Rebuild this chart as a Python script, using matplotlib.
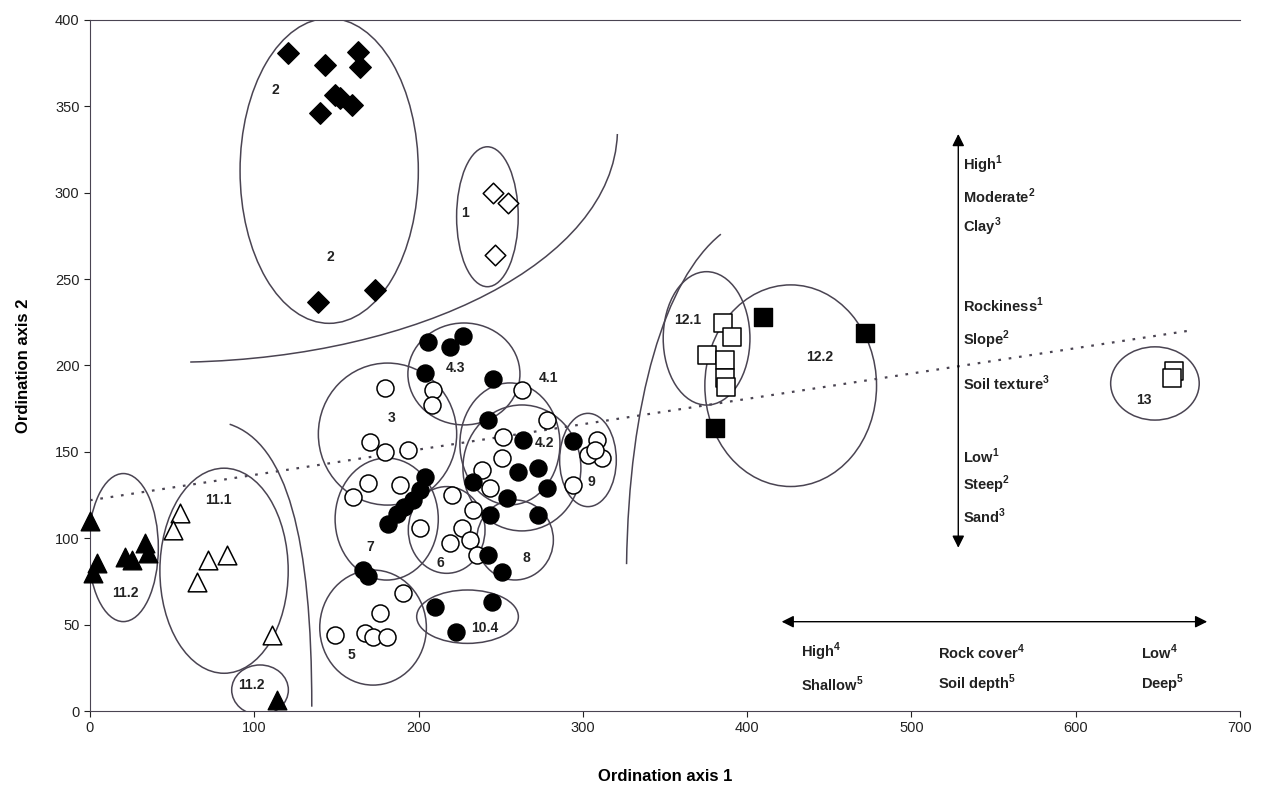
import matplotlib.pyplot as plt
from matplotlib.patches import Ellipse, PathPatch
from matplotlib.path import Path

plt.rcParams['font.family'] = ['Liberation Sans', 'DejaVu Sans']
plt.rcParams['mathtext.fontset'] = 'custom'
plt.rcParams['mathtext.rm'] = 'Liberation Sans'
plt.rcParams['mathtext.bf'] = 'Liberation Sans:bold'

# Sites (ordination scores)
filled_diamond_x = [120.5, 143.0, 163.1, 164.3, 149.1, 152.2, 159.5, 140.0, 138.8, 173.5]
filled_diamond_y = [380.9, 374.0, 381.5, 372.8, 356.6, 354.8, 350.7, 346.2, 236.8, 243.7]

open_diamond_x = [245.5, 254.6, 246.5]
open_diamond_y = [299.7, 293.9, 263.9]

filled_circle_x = [205.7, 219.1, 227.0, 203.9, 245.3, 242.2, 263.5, 294.0, 260.5, 272.7,
                   278.1, 233.1, 253.8, 243.5, 272.7, 203.9, 200.9, 196.6, 191.1, 186.9,
                   181.4, 166.2, 169.2, 242.2, 250.8, 210.0, 244.7, 222.8]
filled_circle_y = [213.6, 210.7, 217.1, 195.7, 192.2, 168.5, 156.9, 156.3, 138.4, 140.7,
                   129.1, 132.6, 123.3, 113.5, 113.5, 135.5, 127.9, 122.1, 118.1, 114.0,
                   108.2, 81.6, 78.1, 90.3, 80.5, 60.2, 63.1, 45.7]

open_circle_x = [179.5, 208.8, 208.2, 170.4, 179.5, 193.5,
                 169.2, 188.7, 160.1, 200.9,
                 220.3, 226.4, 219.1, 231.3, 235.5, 233.1,
                 262.9, 278.1, 251.4, 250.8, 238.6, 243.5,
                 308.6, 311.6, 303.1, 307.4, 294.0,
                 190.5, 149.1, 176.5, 167.4, 172.2, 180.8]
open_circle_y = [187.0, 185.8, 177.1, 155.7, 149.9, 151.1,
                 132.0, 130.8, 123.9, 105.9,
                 125.0, 105.9, 97.3, 99.0, 90.3, 116.4,
                 185.8, 168.5, 158.6, 146.5, 139.5, 129.1,
                 156.9, 146.5, 148.2, 151.1, 130.8,
                 68.3, 44.0, 56.7, 45.2, 42.8, 42.8]

filled_tri_x = [0.0, 4.1, 2.0, 21.3, 25.6, 33.5, 35.3, 113.8]
filled_tri_y = [110.0, 85.5, 79.7, 89.1, 87.4, 97.3, 91.5, 6.4]

open_tri_x = [54.8, 50.5, 71.8, 83.4, 65.1, 110.8]
open_tri_y = [114.6, 104.8, 87.4, 90.3, 74.7, 44.0]

open_square_x = [385.3, 390.7, 375.5, 386.5, 386.5, 387.1, 660.0, 658.5]
open_square_y = [224.6, 216.5, 206.1, 203.2, 192.8, 187.6, 197.0, 193.0]

filled_square_x = [409.6, 471.7, 380.4]
filled_square_y = [228.1, 218.8, 163.8]

# Group ellipses: centre x, centre y, width, height
ell_cx = [145.6, 241.9, 227.6, 181.1, 180.6, 217.1, 258.7, 255.6, 262.9, 303.1,
          172.3, 229.8, 20.3, 81.6, 103.5, 375.3, 426.5, 648.2]
ell_cy = [312.7, 286.1, 195.1, 160.3, 111.1, 104.8, 99.0, 154.6, 140.7, 145.3,
          48.3, 54.6, 94.6, 81.2, 12.2, 215.7, 188.3, 189.6]
ell_w = [108.5, 37.5, 68.2, 84.2, 62.8, 46.7, 46.7, 60.9, 71.8, 34.5,
         64.9, 61.9, 42.6, 78.1, 34.5, 52.8, 104.5, 53.9]
ell_h = [176.6, 81.0, 59.0, 82.2, 70.6, 50.2, 46.3, 70.6, 72.9, 54.0,
         66.6, 30.9, 85.7, 118.7, 28.9, 77.2, 116.7, 42.4]

group_labels = ['2', '2', '1', '4.3', '3', '4.1', '4.2', '9', '7', '6', '8', '10.4',
                '5', '11.2', '11.1', '11.2', '12.1', '12.2', '13']
group_x = [112.6, 146.1, 228.2, 222.2, 183.6, 278.9, 276.9, 305.4, 170.4, 213.0, 265.8,
           240.4, 159.3, 21.3, 78.1, 98.4, 364.1, 444.3, 641.4]
group_y = [359.4, 263.0, 288.1, 198.4, 169.4, 192.6, 155.0, 132.7, 95.1, 85.5, 88.4,
           47.9, 32.4, 68.1, 122.1, 15.1, 226.3, 205.1, 179.8]

# Boundary curves (cubic Bezier control points)
curves = [
    [(61, 202), (200, 205), (318, 260), (321, 334)],
    [(85, 166), (120, 155), (135, 100), (135, 2.5)],
    [(384, 276), (350, 250), (328, 180), (326.6, 85)],
]

# Environmental gradient annotations
vert_labels = ['High$^\\mathbf{1}$', 'Moderate$^\\mathbf{2}$', 'Clay$^\\mathbf{3}$',
               'Rockiness$^\\mathbf{1}$', 'Slope$^\\mathbf{2}$', 'Soil texture$^\\mathbf{3}$',
               'Low$^\\mathbf{1}$', 'Steep$^\\mathbf{2}$', 'Sand$^\\mathbf{3}$']
vert_y = [316.1, 297.7, 280.3, 235.0, 214.8, 189.9, 147.2, 130.8, 112.5]

horiz_labels = ['High$^\\mathbf{4}$', 'Shallow$^\\mathbf{5}$', 'Rock cover$^\\mathbf{4}$',
                'Soil depth$^\\mathbf{5}$', 'Low$^\\mathbf{4}$', 'Deep$^\\mathbf{5}$']
horiz_x = [433, 433, 516, 516, 640, 640]
horiz_y = [34.2, 15.6, 34.2, 15.6, 34.2, 15.6]

line_col = '#4a4452'

fig = plt.figure(figsize=(12.62, 7.86), dpi=100)
ax = fig.add_axes([0.0713, 0.0954, 0.9113, 0.8792])

# Ellipses
for cx, cy, w, h in zip(ell_cx, ell_cy, ell_w, ell_h):
    ax.add_patch(Ellipse((cx, cy), w, h, fill=False, edgecolor=line_col, lw=1.1, zorder=2))

# Curves
for pts in curves:
    path = Path(pts, [Path.MOVETO, Path.CURVE4, Path.CURVE4, Path.CURVE4])
    ax.add_patch(PathPatch(path, fill=False, edgecolor=line_col, lw=1.1, zorder=2))

# Dotted trend line
ax.plot([0, 668], [122, 220], color=line_col, lw=1.6, linestyle=(0, (1.2, 3.5)), zorder=2)

# Sites
ms = 150
ax.scatter(filled_diamond_x, filled_diamond_y, marker='D', s=120, c='black', zorder=4)
ax.scatter(open_diamond_x, open_diamond_y, marker='D', s=110, facecolors='white',
           edgecolors='black', linewidths=1.1, zorder=4)
ax.scatter(open_circle_x, open_circle_y, marker='o', s=ms, facecolors='white',
           edgecolors='black', linewidths=1.1, zorder=4)
ax.scatter(filled_circle_x, filled_circle_y, marker='o', s=ms, c='black', zorder=5)
ax.scatter(filled_tri_x, filled_tri_y, marker='^', s=180, c='black', zorder=5, clip_on=False)
ax.scatter(open_tri_x, open_tri_y, marker='^', s=180, facecolors='white',
           edgecolors='black', linewidths=1.1, zorder=4)
ax.scatter(open_square_x, open_square_y, marker='s', s=150, facecolors='white',
           edgecolors='black', linewidths=1.1, zorder=4)
ax.scatter(filled_square_x, filled_square_y, marker='s', s=150, c='black', zorder=5)

# Group labels
for t, x, y in zip(group_labels, group_x, group_y):
    ax.text(x, y, t, fontsize=10, fontweight='bold', ha='center', va='center',
            color='#222222', zorder=6)

# Gradient arrows
ax.annotate('', xy=(528.5, 334), xytext=(528.5, 94.5),
            arrowprops=dict(arrowstyle='<|-|>', color='black', lw=1.0,
                            mutation_scale=18, shrinkA=0, shrinkB=0))
ax.annotate('', xy=(421, 51.7), xytext=(680, 51.7),
            arrowprops=dict(arrowstyle='<|-|>', color='black', lw=1.0,
                            mutation_scale=18, shrinkA=0, shrinkB=0))

for t, y in zip(vert_labels, vert_y):
    ax.text(531.5, y, t, fontsize=10.5, fontweight='bold', ha='left', va='center',
            color='#222222')
for t, x, y in zip(horiz_labels, horiz_x, horiz_y):
    ax.text(x, y, t, fontsize=10.5, fontweight='bold', ha='left', va='center',
            color='#222222')

ax.set_xlim(0, 700)
ax.set_ylim(0, 400)
ax.set_xticks(range(0, 701, 100))
ax.set_yticks(range(0, 401, 50))
ax.tick_params(labelsize=10.5, length=4, direction='out', colors='#222222')
ax.spines['right'].set_visible(False)
for s in ['left', 'bottom', 'top']:
    ax.spines[s].set_color(line_col)
ax.set_xlabel('Ordination axis 1', fontsize=12, fontweight='bold', labelpad=24)
ax.set_ylabel('Ordination axis 2', fontsize=12, fontweight='bold', labelpad=17)

fig.savefig('out.png', dpi=100)
